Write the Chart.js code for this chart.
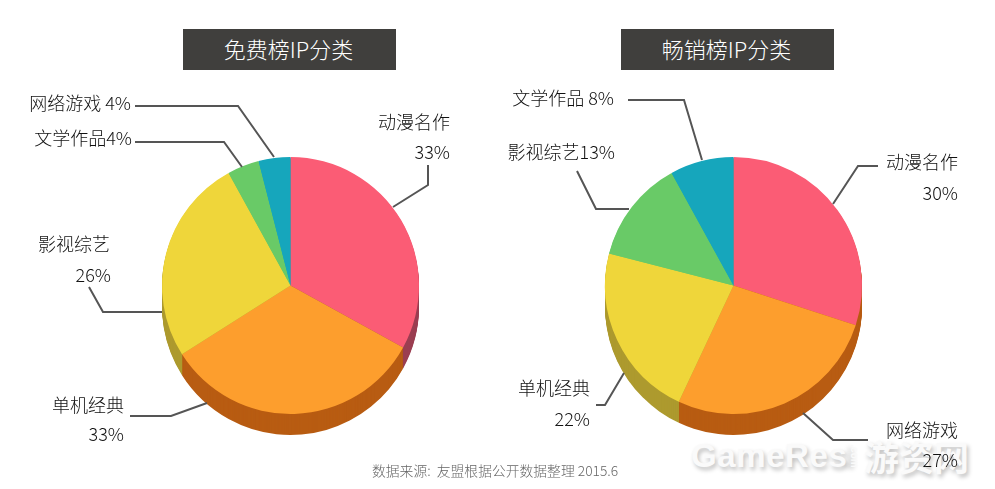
<!DOCTYPE html>
<html>
<head>
<meta charset="utf-8">
<title>IP分类</title>
<script src="https://cdn.jsdelivr.net/npm/chart.js@4/dist/chart.umd.js"></script>
<style>
    html, body { margin: 0; padding: 0; background: #fff; }
    #page { position: relative; width: 995px; height: 489px; overflow: hidden; font-family: "Noto Sans CJK SC", sans-serif; }
    canvas { position: absolute; top: 0; }
    .title { position: absolute; top: 29px; width: 211px; padding-right: 2px; height: 41px; line-height: 39px; background: #403f3d; color: #fff; font-size: 22px; font-weight: 300; text-align: center; }
    #source { position: absolute; left: 372px; top: 461px; color: #666; font-size: 13.8px; line-height: 18px; font-weight: 300; white-space: nowrap; }
    #mark { position: absolute; left: 691px; top: 434px; color: #fafafa; font-family: "Liberation Sans", sans-serif; font-weight: bold; white-space: nowrap; text-shadow: 2px 3px 4px rgba(0, 0, 0, 0.25); }
    #mark span { position: absolute; top: 0; line-height: 44px; }
    #markEn { left: 0; font-size: 33px; letter-spacing: 0.6px; }
    #markCom { left: 151px; font-size: 10px; transform: rotate(90deg); }
    #markCn { left: 173px; top: -1px; font-size: 35px; font-family: "Noto Sans CJK SC", sans-serif; }
</style>
</head>
<body>
<div id="page">
    <div id="mark"><span id="markEn">GameRes</span><span id="markCom">.com</span><span id="markCn">游资网</span></div>
    <canvas id="freeChart" width="497" height="489" style="left:0"></canvas>
    <canvas id="paidChart" width="498" height="489" style="left:497px"></canvas>
    <div class="title" style="left:183px">免费榜IP分类</div>
    <div class="title" style="left:621px">畅销榜IP分类</div>
    <div id="source">数据来源:&nbsp; 友盟根据公开数据整理 2015.6</div>
</div>
<script>
// Data
const freeLabels = ['动漫名作', '单机经典', '影视综艺', '文学作品', '网络游戏'];
const freeValues = [33, 33, 26, 4, 4];
const paidLabels = ['动漫名作', '网络游戏', '单机经典', '影视综艺', '文学作品'];
const paidValues = [30, 27, 22, 13, 8];

const sliceColors = ['#fb5c75', '#fd9e2d', '#efd63a', '#69ca67', '#16a6bc'];
const freeSideColors = ['#9b3f52', '#b85c12', '#ad9a2e', '#69ca67', '#16a6bc'];
const paidSideColors = ['#b85c12', '#b85c12', '#ad9a2e', '#69ca67', '#16a6bc'];

const PIE_DEPTH = 21;

// Callouts, in page coordinates: text anchor(s) and leader line
const freeCallouts = [
    { i: 0, name: [450, 122], value: [450, 152], line: [[428, 165], [428, 185], [393, 207]] },
    { i: 1, name: [124, 405], value: [124, 434], line: [[130, 416], [171, 416], [207, 403]] },
    { i: 2, name: [110, 244], value: [111, 275], line: [[89, 287], [103, 312], [162, 312]] },
    { i: 3, name: [132, 138], sep: '', line: [[135, 142], [224, 142], [242, 167]] },
    { i: 4, name: [131, 103], sep: ' ', line: [[135, 106], [238, 106], [274, 157]] }
];
const paidCallouts = [
    { i: 0, name: [958, 162], value: [958, 193], line: [[878, 166], [858, 166], [833, 204]] },
    { i: 1, name: [958, 430], value: [958, 460], line: [[868, 440], [833, 440], [803, 413]] },
    { i: 2, name: [590, 388], value: [590, 419], line: [[596, 405], [605, 405], [624, 373]] },
    { i: 3, name: [615, 152], sep: '', line: [[577, 171], [596, 209], [629, 209]] },
    { i: 4, name: [614, 98], sep: ' ', line: [[628, 100], [684, 100], [702, 160]] }
];

// Draws the pie's dark side under the slices, taking the geometry from the arcs
const sidePlugin = {
    id: 'side',
    beforeDatasetsDraw(chart, args, opts) {
        const ctx = chart.ctx;
        const arcs = chart.getDatasetMeta(0).data;
        ctx.save();
        for (let d = PIE_DEPTH; d >= 1; d--) {
            arcs.forEach((arc, i) => {
                ctx.fillStyle = opts.colors[i];
                ctx.beginPath();
                ctx.moveTo(arc.x, arc.y + d);
                ctx.arc(arc.x, arc.y + d, arc.outerRadius, arc.startAngle, arc.endAngle);
                ctx.closePath();
                ctx.fill();
            });
        }
        ctx.restore();
    }
};

// Leader lines and their labels
const calloutPlugin = {
    id: 'callouts',
    afterDatasetsDraw(chart, args, opts) {
        const ctx = chart.ctx;
        const labels = chart.data.labels;
        const values = chart.data.datasets[0].data;
        ctx.save();
        ctx.translate(-opts.left, 0);
        ctx.strokeStyle = '#555';
        ctx.lineWidth = 2;
        ctx.fillStyle = '#111';
        ctx.font = '300 18px "Noto Sans CJK SC"';
        ctx.textAlign = 'right';
        ctx.textBaseline = 'middle';
        opts.items.forEach(c => {
            ctx.beginPath();
            c.line.forEach((p, n) => n ? ctx.lineTo(p[0], p[1]) : ctx.moveTo(p[0], p[1]));
            ctx.stroke();
            const pct = values[c.i] + '%';
            if (c.value) {
                ctx.fillText(labels[c.i], c.name[0], c.name[1]);
                ctx.fillText(pct, c.value[0], c.value[1]);
            } else {
                ctx.fillText(labels[c.i] + c.sep + pct, c.name[0], c.name[1]);
            }
        });
        ctx.restore();
    }
};

function pieConfig(labels, values, sideColors, items, left, padding) {
    return {
        type: 'pie',
        data: {
            labels: labels,
            datasets: [{ data: values, backgroundColor: sliceColors, borderWidth: 0 }]
        },
        options: {
            responsive: false,
            animation: false,
            devicePixelRatio: 1,
            layout: { padding: padding },
            plugins: {
                legend: { display: false },
                tooltip: { enabled: false },
                side: { colors: sideColors },
                callouts: { items: items, left: left }
            }
        },
        plugins: [sidePlugin, calloutPlugin]
    };
}

new Chart(document.getElementById('freeChart'),
    pieConfig(freeLabels, freeValues, freeSideColors, freeCallouts, 0,
        { left: 162, right: 78, top: 157, bottom: 75 }));
new Chart(document.getElementById('paidChart'),
    pieConfig(paidLabels, paidValues, paidSideColors, paidCallouts, 497,
        { left: 108, right: 133, top: 157, bottom: 75 }));
</script>
</body>
</html>
